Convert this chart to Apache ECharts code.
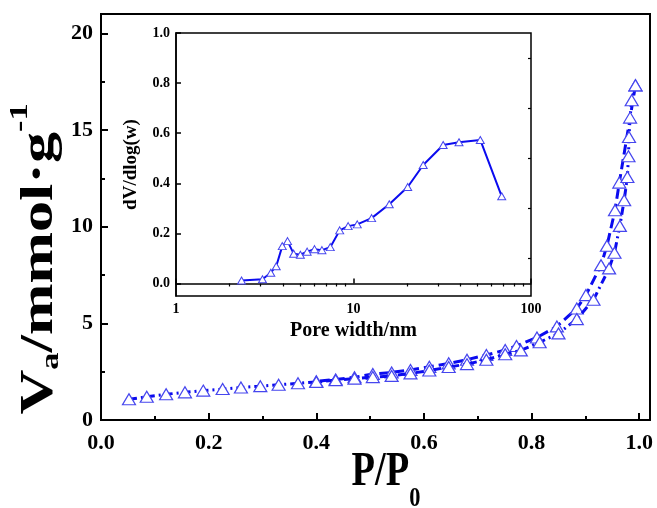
<!DOCTYPE html>
<html>
<head>
<meta charset="utf-8">
<script src="https://cdn.jsdelivr.net/npm/echarts@6/dist/echarts.min.js"></script>
<style>
html,body{margin:0;padding:0;background:#fff;}
#chart{width:657px;height:508px;}
</style>
</head>
<body>
<div id="chart"></div>
<script>
// ---- data ----
const adsP = [0.052,0.085,0.121,0.156,0.190,0.226,0.260,0.296,0.330,0.366,0.400,0.436,0.471,0.505,0.540,0.575,0.610,0.646,0.680,0.716,0.751,0.780,0.815,0.850,0.884,0.915,0.944,0.954,0.964,0.972,0.978,0.980,0.981,0.983,0.986,0.993];
const adsV = [1.07,1.20,1.33,1.43,1.52,1.60,1.68,1.75,1.82,1.90,1.97,2.06,2.14,2.22,2.28,2.41,2.56,2.74,2.89,3.12,3.40,3.60,4.02,4.48,5.22,6.22,7.84,8.65,10.04,11.37,12.57,13.64,14.64,15.64,16.54,17.31];
const desP = [0.993,0.963,0.955,0.940,0.929,0.901,0.884,0.847,0.810,0.772,0.751,0.716,0.680,0.646,0.610,0.575,0.540,0.505,0.471,0.436,0.400];
const desV = [17.31,12.28,10.85,9.01,8.01,6.46,5.77,4.84,4.27,3.83,3.62,3.36,3.12,2.93,2.75,2.59,2.46,2.38,2.21,2.10,2.00];
const poreW = [2.34,3.07,3.42,3.67,3.97,4.25,4.60,5.02,5.48,6.03,6.64,7.40,8.36,9.33,10.5,12.65,15.9,20.2,24.7,32.0,39.3,51.8,68.4];
const dVdlogw = [0.012,0.017,0.043,0.069,0.149,0.169,0.119,0.115,0.127,0.137,0.133,0.145,0.212,0.229,0.236,0.261,0.316,0.385,0.473,0.553,0.564,0.573,0.348];
const mainXTicks = [0,0.2,0.4,0.6,0.8,1.0];
const mainYTicks = [0,5,10,15,20];
const insetYTicks = [0,0.2,0.4,0.6,0.8,1.0];
const insetYMinor = [0.1,0.3,0.5,0.7,0.9];
const insetXMinor = [2,3,4,5,6,7,8,9,20,30,40,50,60,70,80,90];

const zip = (a,b) => a.map((v,i)=>[v,b[i]]);
const FONT = '"Liberation Serif","Times New Roman",serif';
const LINE = '#0b0bef';
const MARK = '#4646ee';

const chart = echarts.init(document.getElementById('chart'), null, {renderer:'canvas'});
const axisBase = {
  axisLine:{show:true,onZero:false,lineStyle:{color:'#000',width:2}},
  splitLine:{show:false}
};
const txt = (size, extra) => Object.assign({fontFamily:FONT,fontWeight:'bold',fontSize:size,fill:'#000'}, extra||{});
const option = {
  backgroundColor:'#fff',
  animation:false,
  grid:[
    {left:101,right:7,top:14,bottom:88,show:true,borderColor:'#000',borderWidth:2,backgroundColor:'transparent'},
    {left:176,right:126,top:33,bottom:212,show:true,borderColor:'#000',borderWidth:1.5,backgroundColor:'#fff'}
  ],
  graphic:[
    { // x axis title  P/P0
      type:'text', x:386, y:473, scaleX:0.8, z:100,
      style:{
        text:'{m|P/P}{s|0}', align:'center', verticalAlign:'middle',
        rich:{
          m:txt(48,{lineHeight:80,verticalAlign:'middle'}),
          s:txt(28,{lineHeight:28,verticalAlign:'bottom'})
        }
      }
    },
    { // y axis title  Va/mmol·g-1
      type:'text', x:40, y:259, rotation:Math.PI/2, scaleX:1.32, z:100,
      style:{
        text:'{m|V}{s|a}{m|/mmol·g}{p|-1}', align:'center', verticalAlign:'middle',
        rich:{
          m:txt(47,{lineHeight:66,verticalAlign:'middle'}),
          s:txt(26,{lineHeight:26,verticalAlign:'bottom',padding:[0,0,9,0]}),
          p:txt(26,{lineHeight:26,verticalAlign:'top'})
        }
      }
    }
  ],
  xAxis:[
    Object.assign({}, axisBase, {
      gridIndex:0,type:'value',min:0,max:1.02,interval:0.2,
      axisTick:{inside:true,length:7,lineStyle:{width:2,color:'#000'}},
      minorTick:{show:true,splitNumber:2,length:4,lineStyle:{width:2,color:'#000'}},
      axisLabel:{fontFamily:FONT,fontWeight:'bold',fontSize:22,color:'#000',margin:12,showMaxLabel:false,
        formatter:v=>mainXTicks.some(t=>Math.abs(t-v)<1e-9)?v.toFixed(1):''}
    }),
    Object.assign({}, axisBase, {
      gridIndex:1,type:'log',logBase:10,min:1,max:100,
      axisLine:{show:true,lineStyle:{color:'#000',width:1.5}},
      axisTick:{inside:true,length:5,lineStyle:{width:1.5,color:'#000'}},
      axisLabel:{fontFamily:FONT,fontWeight:'bold',fontSize:14,color:'#000',margin:6},
      name:'Pore width/nm',nameLocation:'middle',nameGap:25,
      nameTextStyle:{fontFamily:FONT,fontWeight:'bold',fontSize:20,color:'#000'}
    }),
    {
      gridIndex:1,type:'log',logBase:10,min:1,max:100,
      axisLine:{show:false},splitLine:{show:false},
      axisLabel:{show:false},
      axisTick:{show:true,inside:true,length:3,customValues:insetXMinor,lineStyle:{width:1.2,color:'#000'}}
    }
  ],
  yAxis:[
    Object.assign({}, axisBase, {
      gridIndex:0,type:'value',min:0,max:21,interval:5,
      axisTick:{inside:true,length:7,lineStyle:{width:2,color:'#000'}},
      minorTick:{show:true,splitNumber:2,length:4,lineStyle:{width:2,color:'#000'}},
      axisLabel:{fontFamily:FONT,fontWeight:'bold',fontSize:22,color:'#000',margin:8,showMaxLabel:false,
        formatter:v=>mainYTicks.indexOf(v)>=0?String(v):''}
    }),
    Object.assign({}, axisBase, {
      gridIndex:1,type:'value',min:-0.05,max:1.0,
      axisLine:{show:true,lineStyle:{color:'#000',width:1.5}},
      axisTick:{inside:true,length:5,customValues:insetYTicks,lineStyle:{width:1.5,color:'#000'}},
      axisLabel:{fontFamily:FONT,fontWeight:'bold',fontSize:14,color:'#000',margin:6,customValues:insetYTicks,
        formatter:v=>v.toFixed(1)},
      name:'dV/dlog(w)',nameLocation:'middle',nameGap:35,nameRotate:90,
      nameTextStyle:{fontFamily:FONT,fontWeight:'bold',fontSize:19,color:'#000'}
    }),
    {
      gridIndex:1,type:'value',min:-0.05,max:1.0,
      axisLine:{show:false},splitLine:{show:false},axisLabel:{show:false},
      axisTick:{show:true,inside:true,length:3,customValues:insetYMinor,lineStyle:{width:1.2,color:'#000'}}
    }
  ],
  series:[
    {
      name:'desorption',type:'line',xAxisIndex:0,yAxisIndex:0,data:zip(desP,desV),
      symbol:'triangle',symbolSize:[13,11],showAllSymbol:true,
      itemStyle:{color:'#fff',borderColor:MARK,borderWidth:1.2},
      lineStyle:{color:LINE,width:3,type:[10,5]},z:3
    },
    {
      name:'adsorption',type:'line',xAxisIndex:0,yAxisIndex:0,data:zip(adsP,adsV),
      symbol:'triangle',symbolSize:[13,11],showAllSymbol:true,
      itemStyle:{color:'#fff',borderColor:MARK,borderWidth:1.2},
      lineStyle:{color:LINE,width:3,type:[8,4,2,4]},z:4
    },
    {
      name:'pore',type:'line',xAxisIndex:1,yAxisIndex:1,data:zip(poreW,dVdlogw),
      symbol:'triangle',symbolSize:[8,7],showAllSymbol:true,
      itemStyle:{color:'#fff',borderColor:MARK,borderWidth:1},
      lineStyle:{color:LINE,width:2},z:5
    }
  ]
};
chart.setOption(option);
</script>
</body>
</html>
